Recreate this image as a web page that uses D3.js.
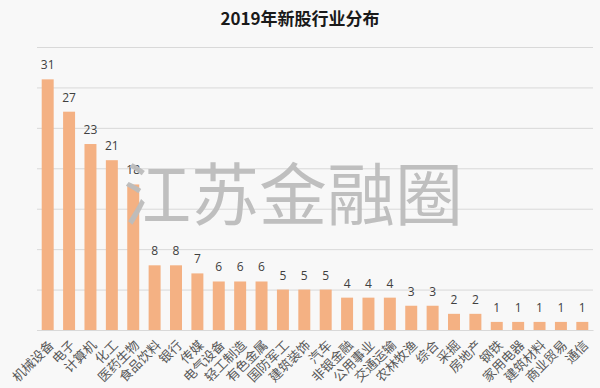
<!DOCTYPE html>
<html>
<head>
<meta charset="utf-8">
<script src="https://cdn.jsdelivr.net/npm/d3@7/dist/d3.min.js"></script>
<style>
  body { margin: 0; background: #f8f8f8; }
  svg { display: block; }
</style>
</head>
<body>
<div id="chart"></div>
<script>
const categories = ['机械设备', '电子', '计算机', '化工', '医药生物', '食品饮料', '银行', '传媒',
  '电气设备', '轻工制造', '有色金属', '国防军工', '建筑装饰', '汽车', '非银金融', '公用事业',
  '交通运输', '农林牧渔', '综合', '采掘', '房地产', '钢铁', '家用电器', '建筑材料', '商业贸易', '通信']
const counts = [31, 27, 23, 21, 18, 8, 8, 7, 6, 6, 6, 5, 5, 5, 4, 4, 4, 3, 3, 2, 2, 1, 1, 1, 1, 1]
const yTicks = [0, 5, 10, 15, 20, 25, 30, 35]

const W = 600
const H = 388
const margin = { top: 47, left: 37, right: 7, bottom: 58 }
const width = W - margin.left - margin.right
const height = H - margin.top - margin.bottom

const svg = d3.select('#chart')
  .append('svg')
  .attr('width', W)
  .attr('height', H)

svg.append('rect')
  .attr('width', W)
  .attr('height', H)
  .attr('fill', '#f8f8f8')

svg.append('text')
  .attr('x', W / 2)
  .attr('y', 25)
  .attr('text-anchor', 'middle')
  .attr('font-family', '"Noto Sans CJK SC", sans-serif')
  .attr('font-weight', 'bold')
  .attr('font-size', 17)
  .attr('fill', '#1a1a1a')
  .text('2019年新股行业分布')

const g = svg.append('g')
  .attr('transform', 'translate(' + margin.left + ',' + margin.top + ')')

const x = d3.scaleBand()
  .domain(categories)
  .range([0, width])
  .paddingInner(0.44)
  .paddingOuter(0.22)

const y = d3.scaleLinear()
  .domain([0, 35])
  .range([height, 0])

// gridlines
const grid = d3.axisLeft(y).tickValues(yTicks).tickSize(-width).tickFormat('')
g.append('g')
  .attr('class', 'grid')
  .call(grid)
  .call(s => s.select('.domain').remove())
  .call(s => s.selectAll('line').attr('stroke', '#d9d9d9').attr('stroke-width', 1))

g.selectAll('rect.bar')
  .data(counts)
  .enter()
  .append('rect')
  .attr('class', 'bar')
  .attr('x', (d, i) => x(categories[i]))
  .attr('y', d => y(d))
  .attr('width', x.bandwidth())
  .attr('height', d => height - y(d))
  .attr('fill', '#f4b183')

g.selectAll('text.val')
  .data(counts)
  .enter()
  .append('text')
  .attr('class', 'val')
  .attr('x', (d, i) => x(categories[i]) + x.bandwidth() / 2)
  .attr('y', d => y(d) - 10)
  .attr('text-anchor', 'middle')
  .attr('font-family', '"Open Sans", sans-serif')
  .attr('font-size', 12)
  .attr('fill', '#404040')
  .text(d => d)

// x axis with rotated labels
const xAxis = d3.axisBottom(x).tickSize(0).tickPadding(0)
g.append('g')
  .attr('transform', 'translate(0,' + height + ')')
  .call(xAxis)
  .call(s => s.select('.domain').attr('stroke', '#d9d9d9'))
  .call(s => s.selectAll('.tick text')
    .attr('font-family', '"Noto Sans CJK SC", sans-serif')
    .attr('font-size', 13)
    .attr('fill', '#595959')
    .attr('text-anchor', 'end')
    .attr('dy', null)
    .attr('y', 0)
    .attr('transform', 'translate(7,16) rotate(-45)'))

// watermark
svg.append('text')
  .attr('x', 293)
  .attr('y', 190)
  .attr('text-anchor', 'middle')
  .attr('dominant-baseline', 'central')
  .attr('font-family', '"Noto Sans CJK SC", sans-serif')
  .attr('font-size', 68)
  .attr('fill', '#bdbdbd')
  .attr('opacity', 0.95)
  .text('江苏金融圈')
</script>
</body>
</html>
